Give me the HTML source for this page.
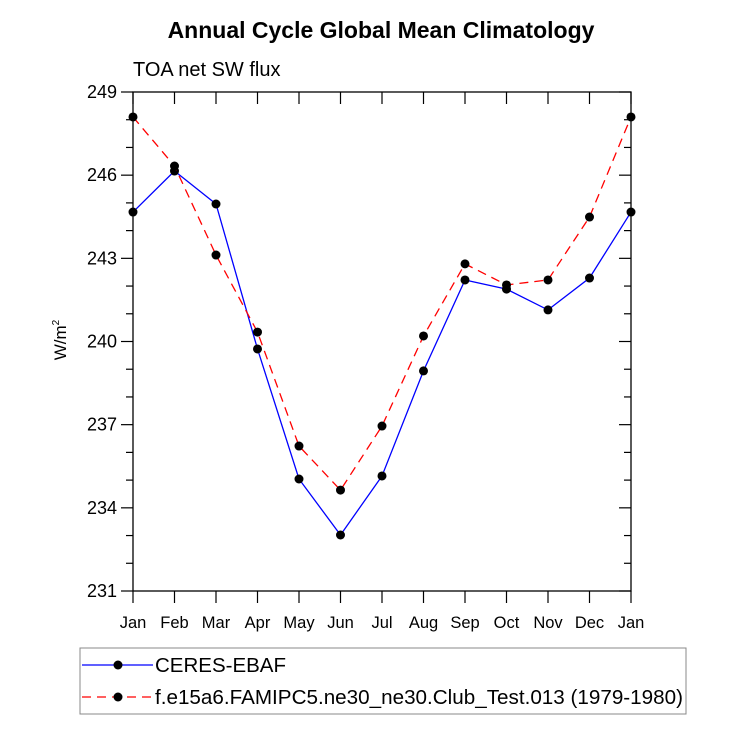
<!DOCTYPE html>
<html><head><meta charset="utf-8"><style>
body{margin:0;background:#fff}
svg{display:block;font-family:"Liberation Sans",sans-serif}
</style></head><body>
<svg id="chart" width="733" height="734">
<text x="381" y="38" text-anchor="middle" font-size="23" font-weight="bold">Annual Cycle Global Mean Climatology</text>
<text x="133" y="76" font-size="20">TOA net SW flux</text>
<text transform="translate(66,340) rotate(-90)" text-anchor="middle" font-size="17">W/m<tspan font-size="10" dy="-7">2</tspan></text>
<g id="axes"></g>
<g id="series"></g>
<g>
<rect x="80" y="648" width="606" height="66" fill="none" stroke="#888" stroke-width="1"/>
<g>
<line x1="82" y1="665" x2="153" y2="665" stroke="#00f" stroke-width="1.3"/>
<circle cx="118" cy="665" r="4.5" fill="#000"/>
<text x="155" y="672" font-size="20.5">CERES-EBAF</text></g>
<g>
<line x1="82" y1="697" x2="153" y2="697" stroke="#f00" stroke-width="1.3" stroke-dasharray="9,6"/>
<circle cx="118" cy="697" r="4.5" fill="#000"/>
<text x="155" y="704" font-size="20.5" textLength="528" lengthAdjust="spacingAndGlyphs">f.e15a6.FAMIPC5.ne30_ne30.Club_Test.013 (1979-1980)</text></g>
</g>
</svg>
<script>
const months=["Jan","Feb","Mar","Apr","May","Jun","Jul","Aug","Sep","Oct","Nov","Dec","Jan"];
const ceres=[244.67,246.15,244.96,239.73,235.04,233.02,235.15,238.94,242.22,241.89,241.14,242.29,244.67];
const model=[248.1,246.33,243.12,240.34,236.23,234.64,236.95,240.2,242.8,242.04,242.22,244.49,248.1];
const yTicks=[231,234,237,240,243,246,249];
const X0=133,X1=631,Y0=591,Y1=92,YMIN=231,YMAX=249;
const xs=i=>X0+(X1-X0)*i/(months.length-1);
const ys=v=>Y0-(Y0-Y1)*(v-YMIN)/(YMAX-YMIN);
const NS="http://www.w3.org/2000/svg";
function mk(tag,attrs,parent){const e=document.createElementNS(NS,tag);for(const k in attrs)e.setAttribute(k,attrs[k]);parent.appendChild(e);return e;}
const ax=document.getElementById('axes');
let r=mk('rect',{x:X0,y:Y1,width:X1-X0,height:Y0-Y1,fill:'none',stroke:'#000','stroke-width':1.3},ax);


months.forEach((m,i)=>{const x=xs(i);
 mk('line',{x1:x,y1:Y0,x2:x,y2:Y0+12,stroke:'#000','stroke-width':1.2},ax);
 mk('line',{x1:x,y1:Y1,x2:x,y2:Y1+12,stroke:'#000','stroke-width':1.2},ax);
 const t=mk('text',{x:x,y:Y0+37,'text-anchor':'middle','font-size':16.5},ax);t.textContent=m;
 
 
});
for(let v=YMIN;v<=YMAX;v++){const y=ys(v);const major=yTicks.includes(v);const L=major?12:7;
 mk('line',{x1:X0-L,y1:y,x2:X0,y2:y,stroke:'#000','stroke-width':1.2},ax);
 mk('line',{x1:X1,y1:y,x2:X1-L,y2:y,stroke:'#000','stroke-width':1.2},ax);
 if(major){const t=mk('text',{x:X0-16,y:y+6,'text-anchor':'end','font-size':18},ax);t.textContent=v;
 
 }
}
const sg=document.getElementById('series');
function series(data,color,dash,name){
 const g=mk('g',{},sg);
 
 
 const p=mk('polyline',{points:data.map((v,i)=>xs(i)+','+ys(v)).join(' '),fill:'none',stroke:color,'stroke-width':1.3},g);
 if(dash)p.setAttribute('stroke-dasharray',dash);
 data.forEach((v,i)=>{const c=mk('circle',{cx:xs(i),cy:ys(v),r:4.5,fill:'#000'},g);
  
  });
}
series(ceres,'#00f',null,'ceres-series');
series(model,'#f00','9,6','model-series');
</script>
</body></html>
